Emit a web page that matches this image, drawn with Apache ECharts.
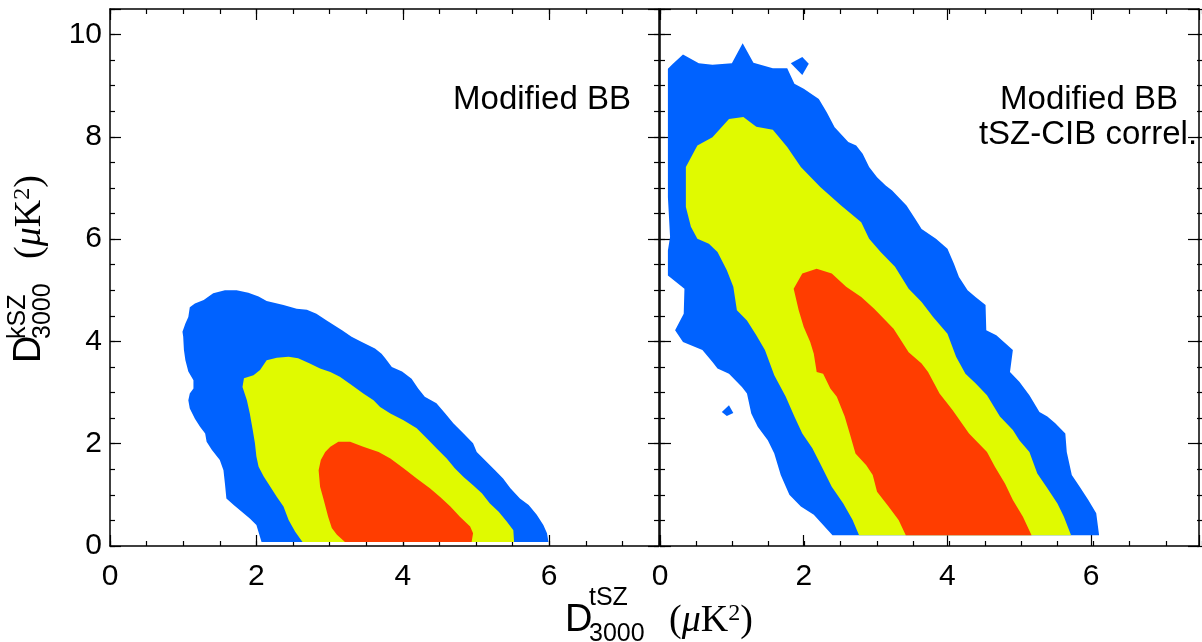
<!DOCTYPE html>
<html>
<head>
<meta charset="utf-8">
<script src="https://cdn.jsdelivr.net/npm/echarts@6/dist/echarts.min.js"></script>
<style>html,body{margin:0;padding:0;background:#fff}#c{width:1202px;height:642px}</style>
</head>
<body>
<div id="c"></div>
<script>
// ---------------- data ----------------
const xTickLabels = [0, 2, 4, 6];
const yTickLabels = [0, 2, 4, 6, 8, 10];
const xRange = [0, 7.5];
const yRange = [0, 10.5];
const panelLabels = [['Modified BB'], ['Modified BB', 'tSZ-CIB correl.']];

// Left panel (Modified BB) contours: [tSZ, kSZ]
const leftBlue = [[2.07,0.08],[2.00,0.41],[1.91,0.54],[1.80,0.67],[1.69,0.80],[1.59,0.93],[1.57,1.22],[1.55,1.48],[1.50,1.68],[1.39,1.88],[1.32,2.04],[1.30,2.20],[1.23,2.33],[1.16,2.49],[1.09,2.69],[1.07,2.85],[1.09,2.98],[1.14,3.08],[1.14,3.24],[1.07,3.41],[1.03,3.63],[1.01,3.83],[1.00,4.09],[0.99,4.19],[1.03,4.35],[1.07,4.48],[1.09,4.67],[1.16,4.74],[1.28,4.81],[1.41,4.94],[1.57,5.00],[1.73,5.00],[1.89,4.95],[2.03,4.88],[2.14,4.79],[2.37,4.71],[2.55,4.64],[2.69,4.62],[2.82,4.54],[2.96,4.41],[3.17,4.22],[3.30,4.09],[3.44,3.99],[3.62,3.86],[3.71,3.76],[3.76,3.67],[3.85,3.50],[3.99,3.41],[4.12,3.27],[4.21,3.08],[4.30,2.92],[4.46,2.79],[4.58,2.59],[4.69,2.40],[4.83,2.20],[4.96,2.01],[5.01,1.84],[5.12,1.68],[5.26,1.48],[5.37,1.32],[5.47,1.13],[5.60,0.93],[5.72,0.80],[5.83,0.61],[5.92,0.41],[5.97,0.25],[5.99,0.08]];
const leftYellow = [[2.63,0.08],[2.53,0.28],[2.44,0.51],[2.37,0.77],[2.28,0.96],[2.19,1.16],[2.10,1.36],[2.03,1.55],[2.00,1.75],[1.98,2.01],[1.95,2.27],[1.91,2.59],[1.87,2.85],[1.81,3.11],[1.83,3.28],[1.96,3.34],[2.05,3.44],[2.14,3.63],[2.28,3.68],[2.44,3.70],[2.57,3.67],[2.73,3.57],[2.87,3.47],[3.01,3.40],[3.14,3.31],[3.30,3.15],[3.46,2.98],[3.60,2.85],[3.69,2.72],[3.83,2.59],[4.01,2.46],[4.19,2.30],[4.33,2.10],[4.46,1.91],[4.60,1.71],[4.71,1.52],[4.83,1.35],[4.96,1.19],[5.08,1.03],[5.19,0.83],[5.31,0.67],[5.42,0.48],[5.51,0.31],[5.52,0.08]];
const leftRed = [[3.21,0.08],[3.10,0.22],[3.03,0.35],[2.98,0.57],[2.92,0.90],[2.87,1.16],[2.85,1.48],[2.88,1.68],[2.94,1.84],[3.01,1.94],[3.12,2.04],[3.28,2.04],[3.46,1.94],[3.67,1.84],[3.83,1.71],[4.01,1.52],[4.19,1.32],[4.37,1.13],[4.51,0.96],[4.65,0.77],[4.78,0.57],[4.92,0.38],[4.96,0.25],[4.94,0.08]];

// Right panel (Modified BB + tSZ-CIB correlation) contours
const rightBlue = [[2.40,0.21],[2.27,0.41],[2.14,0.61],[1.96,0.77],[1.80,1.00],[1.68,1.39],[1.59,1.81],[1.50,2.07],[1.36,2.33],[1.27,2.59],[1.21,2.98],[1.14,3.11],[0.96,3.37],[0.80,3.47],[0.73,3.60],[0.59,3.83],[0.32,3.99],[0.21,4.22],[0.33,4.54],[0.34,5.03],[0.11,5.29],[0.11,5.78],[0.14,6.04],[0.11,6.82],[0.11,8.13],[0.11,9.33],[0.18,9.43],[0.32,9.61],[0.54,9.44],[0.73,9.41],[1.00,9.44],[1.15,9.83],[1.30,9.45],[1.57,9.34],[1.77,9.34],[1.87,9.04],[2.00,8.94],[2.21,8.74],[2.32,8.48],[2.43,8.19],[2.62,7.90],[2.73,7.83],[2.82,7.67],[2.91,7.41],[3.02,7.21],[3.14,7.05],[3.23,6.95],[3.43,6.66],[3.55,6.40],[3.64,6.20],[3.84,6.01],[4.00,5.81],[4.09,5.52],[4.16,5.26],[4.28,5.00],[4.39,4.87],[4.53,4.71],[4.54,4.22],[4.68,4.12],[4.91,3.83],[4.87,3.40],[5.00,3.21],[5.14,2.95],[5.28,2.62],[5.39,2.53],[5.50,2.40],[5.64,2.20],[5.66,1.84],[5.73,1.39],[5.84,1.16],[5.96,0.90],[6.07,0.64],[6.11,0.21]];
const rightBlueIslandTop = [[1.82,9.44],[1.98,9.56],[2.07,9.43],[1.98,9.21]];
const rightBlueIslandLow = [[0.86,2.62],[0.96,2.75],[1.02,2.60],[0.93,2.54]];
const rightYellow = [[2.77,0.21],[2.68,0.51],[2.55,0.83],[2.39,1.16],[2.23,1.61],[2.12,1.91],[1.98,2.20],[1.87,2.53],[1.75,2.92],[1.59,3.34],[1.46,3.83],[1.34,4.12],[1.21,4.41],[1.07,4.61],[1.02,5.07],[0.93,5.39],[0.80,5.75],[0.68,5.91],[0.52,6.01],[0.43,6.24],[0.36,6.63],[0.36,7.41],[0.52,7.83],[0.73,7.99],[0.96,8.35],[1.16,8.39],[1.34,8.20],[1.57,8.14],[1.77,7.80],[1.96,7.41],[2.23,7.02],[2.52,6.66],[2.80,6.33],[2.91,6.01],[3.07,5.75],[3.27,5.46],[3.46,5.03],[3.64,4.77],[3.80,4.48],[4.00,4.15],[4.12,3.70],[4.25,3.37],[4.39,3.18],[4.55,2.95],[4.73,2.53],[4.91,2.27],[5.00,2.07],[5.14,1.84],[5.25,1.42],[5.39,1.13],[5.53,0.83],[5.62,0.57],[5.72,0.21]];
const rightRed = [[3.42,0.21],[3.32,0.51],[3.18,0.77],[3.02,1.06],[2.96,1.39],[2.87,1.58],[2.72,1.81],[2.64,2.20],[2.57,2.53],[2.46,2.92],[2.37,3.08],[2.27,3.37],[2.18,3.40],[2.14,3.76],[2.09,3.99],[2.00,4.28],[1.93,4.61],[1.86,5.03],[1.98,5.33],[2.18,5.42],[2.39,5.33],[2.59,5.07],[2.80,4.87],[2.98,4.64],[3.25,4.25],[3.46,3.79],[3.64,3.57],[3.73,3.40],[3.89,2.98],[4.07,2.66],[4.30,2.20],[4.55,1.84],[4.66,1.55],[4.80,1.22],[4.91,0.90],[5.05,0.57],[5.17,0.21]];

// ---------------- styling ----------------
const SANS = "'Liberation Sans', Arial, Helvetica, sans-serif";
const SERIF = "'Liberation Serif', 'DejaVu Serif', serif";
const C_BLUE = '#0062ff', C_YEL = '#e0fa00', C_RED = '#ff3d00';

const G0 = {left:110, top:9, width:549, height:537};
const G1 = {left:660, top:9, width:550, height:537};

function xAx(grid, pos, major, labels) {
  return {type:'value', gridIndex:grid, position:pos, min:xRange[0], max:xRange[1], interval: major ? 2 : 0.5,
    axisLine:{show:major, onZero:false, lineStyle:{color:'#000', width:1.5}},
    axisTick:{show:true, inside:true, length: major ? 11 : 5, lineStyle:{color:'#000', width:1.2}},
    axisLabel:{show:labels, margin:16, fontSize:30, color:'#000', fontFamily:SANS,
      formatter: v => xTickLabels.includes(v) ? String(v) : ''},
    splitLine:{show:false}, minorTick:{show:false}};
}
function yAx(grid, pos, major, labels) {
  return {type:'value', gridIndex:grid, position:pos, min:yRange[0], max:yRange[1], interval: major ? 2 : 0.5,
    axisLine:{show:major, onZero:false, lineStyle:{color:'#000', width:1.5}},
    axisTick:{show:true, inside:true, length: major ? 11 : 5, lineStyle:{color:'#000', width:1.2}},
    axisLabel:{show:labels, margin:8, fontSize:30, color:'#000', fontFamily:SANS,
      formatter: v => yTickLabels.includes(v) ? String(v) : ''},
    splitLine:{show:false}, minorTick:{show:false}};
}

function poly(pts, color, xi, yi) {
  return {type:'custom', coordinateSystem:'cartesian2d', xAxisIndex:xi, yAxisIndex:yi,
    data: pts, encode:{x:0, y:1}, clip:true, silent:true,
    renderItem: function (params, api) {
      if (params.dataIndex !== 0) return null;
      return {type:'polygon', shape:{points: pts.map(p => api.coord(p))}, style:{fill: color}};
    }};
}

function titleParts(sup, sub, supOff) {
  return [
    {type:'text', x:0, y:0, style:{text:'D', fontSize:38, fontFamily:SANS, fill:'#000', align:'left', verticalAlign:'middle'}},
    {type:'text', x:24, y:supOff, style:{text:sup, fontSize:25, fontFamily:SANS, fill:'#000', align:'left', verticalAlign:'middle'}},
    {type:'text', x:24, y:13, style:{text:sub, fontSize:25, fontFamily:SANS, fill:'#000', align:'left', verticalAlign:'middle'}},
    {type:'text', x:104, y:0, style:{text:'{p|(}{m|μ}{p|K}{s|2}{p|)}', fill:'#000', align:'left', verticalAlign:'middle',
      rich:{p:{fontSize:38, fontFamily:SERIF, fill:'#000', verticalAlign:'middle'},
            m:{fontSize:38, fontFamily:SERIF, fontStyle:'italic', fill:'#000', verticalAlign:'middle'},
            s:{fontSize:24, fontFamily:SERIF, fill:'#000', verticalAlign:'top'}}}}
  ];
}

const chart = echarts.init(document.getElementById('c'), null, {renderer:'canvas', width:1202, height:642});
chart.setOption({
  animation:false,
  backgroundColor:'#fff',
  grid:[G0, G1, G0, G1],
  xAxis:[xAx(0,'bottom',true,true), xAx(0,'top',true,false), xAx(1,'bottom',true,true), xAx(1,'top',true,false),
         xAx(2,'bottom',false,false), xAx(2,'top',false,false), xAx(3,'bottom',false,false), xAx(3,'top',false,false)],
  yAxis:[yAx(0,'left',true,true), yAx(0,'right',true,false), yAx(1,'left',true,false), yAx(1,'right',true,false),
         yAx(2,'left',false,false), yAx(2,'right',false,false), yAx(3,'left',false,false), yAx(3,'right',false,false)],
  series:[
    poly(leftBlue, C_BLUE, 0, 0), poly(leftYellow, C_YEL, 0, 0), poly(leftRed, C_RED, 0, 0),
    poly(rightBlue, C_BLUE, 2, 2), poly(rightBlueIslandTop, C_BLUE, 2, 2), poly(rightBlueIslandLow, C_BLUE, 2, 2),
    poly(rightYellow, C_YEL, 2, 2), poly(rightRed, C_RED, 2, 2)
  ],
  graphic:[
    {type:'text', x:542, y:100, style:{text:panelLabels[0][0], fontSize:33, fontFamily:SANS, fill:'#000', align:'center', verticalAlign:'middle'}},
    {type:'text', x:1089, y:100, style:{text:panelLabels[1][0], fontSize:33, fontFamily:SANS, fill:'#000', align:'center', verticalAlign:'middle'}},
    {type:'text', x:1088, y:135, style:{text:panelLabels[1][1], fontSize:33, fontFamily:SANS, fill:'#000', align:'center', verticalAlign:'middle'}},
    {type:'group', x:565, y:621, children: titleParts('tSZ', '3000', -23)},
    {type:'group', x:30, y:363, rotation: Math.PI/2, children: titleParts('kSZ', '3000', -12)}
  ]
});
</script>
</body>
</html>
